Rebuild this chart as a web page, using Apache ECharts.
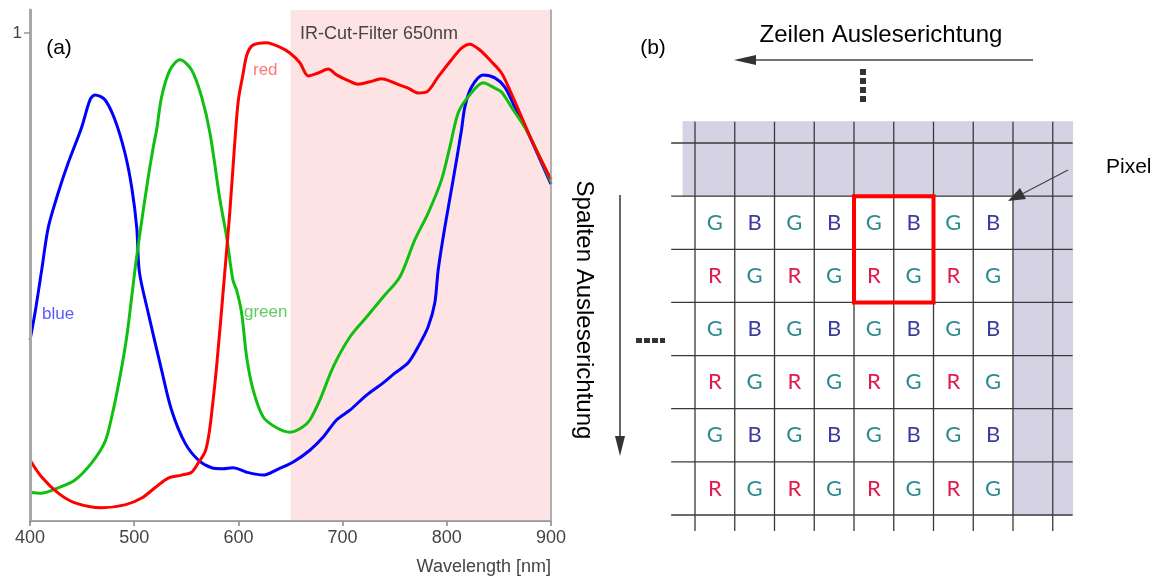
<!DOCTYPE html>
<html><head><meta charset="utf-8">
<script src="https://cdn.jsdelivr.net/npm/echarts@6/dist/echarts.min.js"></script>
<style>html,body{margin:0;padding:0;background:#fff}#c{width:1159px;height:579px}</style>
</head><body><div id="c"></div>
<script>
// ---------- data: (a) spectral sensitivity ----------
const xTicks = [400, 500, 600, 700, 800, 900];
const yTicks = [1];
const irCutRange = [650, 900];
const blueCurve = [[400,0.371],[404.8,0.426],[411.2,0.514],[417.6,0.602],[427,0.672],[436.7,0.734],[449.6,0.807],[457.6,0.863],[462.4,0.873],[471.9,0.863],[481.5,0.822],[491.1,0.754],[497.6,0.684],[502.4,0.602],[505,0.51],[513.5,0.426],[526.3,0.309],[535.9,0.227],[548.7,0.160],[561.5,0.125],[574.3,0.109],[585,0.107],[595,0.109],[607.9,0.100],[623.8,0.094],[636.7,0.105],[652.6,0.121],[668.6,0.145],[681.4,0.172],[694.2,0.207],[707,0.227],[723,0.258],[738.9,0.283],[750.1,0.303],[762.9,0.324],[772.5,0.357],[782.1,0.398],[788.5,0.447],[791.7,0.514],[798.1,0.602],[806.1,0.699],[814.1,0.801],[817.3,0.848],[823.7,0.889],[834.9,0.914],[846.1,0.908],[855.7,0.889],[865.3,0.848],[878,0.795],[900,0.69]];
const greenCurve = [[400,0.059],[411.2,0.057],[427.1,0.068],[443.2,0.084],[459.2,0.119],[471.9,0.162],[478.4,0.213],[486.3,0.295],[492.8,0.377],[497.6,0.459],[500.7,0.514],[505.5,0.590],[513.5,0.705],[518.3,0.766],[521.5,0.801],[526.3,0.869],[534.3,0.924],[543.9,0.945],[555.1,0.924],[564.7,0.869],[572.7,0.795],[582.3,0.658],[588.7,0.582],[594.7,0.494],[598.3,0.473],[603.1,0.426],[607.9,0.336],[614.2,0.268],[623.8,0.213],[636.7,0.191],[649.4,0.182],[660.6,0.191],[668.6,0.207],[678.2,0.248],[691,0.316],[707,0.377],[723,0.418],[738.9,0.459],[754.9,0.5],[769.3,0.576],[782.1,0.631],[794.9,0.699],[802.9,0.766],[810.9,0.836],[820.5,0.869],[834.9,0.898],[846.1,0.887],[852.5,0.879],[862.1,0.848],[878,0.795],[900,0.695]];
const redCurve = [[400,0.125],[411.2,0.090],[427.1,0.057],[443.2,0.037],[468.8,0.027],[491.1,0.033],[507.2,0.047],[519.9,0.068],[532.7,0.088],[545.5,0.094],[555.1,0.100],[561.5,0.119],[567.9,0.141],[570.8,0.166],[573.6,0.207],[579.4,0.324],[587.1,0.514],[591.9,0.637],[596.7,0.781],[600,0.863],[604.3,0.914],[608.1,0.955],[613.9,0.975],[627.1,0.980],[639.8,0.971],[649.4,0.959],[659,0.939],[667,0.912],[676.6,0.918],[686.2,0.926],[694.2,0.914],[703.8,0.904],[715,0.895],[726.2,0.900],[737.4,0.906],[747,0.900],[755,0.893],[762.9,0.887],[772.5,0.877],[780.6,0.879],[791.7,0.910],[804.5,0.945],[814.1,0.969],[822.1,0.977],[831.7,0.965],[842.9,0.941],[852.5,0.918],[860.5,0.883],[871.7,0.828],[884.5,0.766],[900,0.70]];

// ---------- data: (b) Bayer pattern ----------
const bayerRows = ['GBGBGBGB','RGRGRGRG','GBGBGBGB','RGRGRGRG','GBGBGBGB','RGRGRGRG'];
const borderRows = [-1, 0];      // shaded sensor rows above the pattern
const borderCols = [8, 9];       // shaded sensor columns right of the pattern
const highlightCell = [4, 0];    // top-left pattern cell of the marked 2x2 block
const letterColor = {G:'#2a8a90', B:'#3c3c9c', R:'#e3194c'};

// view window of the sensor grid (in cell units)
const viewX = [-0.3, 9.5], viewY = [-0.4, 7.3], hLineX = [-0.6, 9.5];
const SHADE = '#d5d2e4';

const chart = echarts.init(document.getElementById('c'), null, {renderer:'canvas'});
const FONT = '"Liberation Sans", Arial, sans-serif';

function rectFrom(api, c0, r0, c1, r1) {
  const p0 = api.coord([c0, r0]), p1 = api.coord([c1, r1]);
  return {x: Math.min(p0[0], p1[0]), y: Math.min(p0[1], p1[1]),
          width: Math.abs(p1[0]-p0[0]), height: Math.abs(p1[1]-p0[1])};
}

const shadeData = [];
for (let r = -1; r <= 7; r++) for (let c = -1; c <= 9; c++) {
  if (borderRows.includes(r) || (borderCols.includes(c) && r <= bayerRows.length)) shadeData.push([c, r]);
}
const lineData = [];
for (let j = 0; j <= bayerRows.length + 1; j++) lineData.push([0, j]);
for (let k = 0; k <= bayerRows[0].length + 1; k++) lineData.push([1, k]);
const letterData = [];
bayerRows.forEach((row, i) => row.split('').forEach((ch, c) => letterData.push([c, i + 1])));

const option = {
  animation: false,
  grid: [
    {left: 30, top: 10, width: 521, bottom: 58, show: false},
    {left: 695, top: 143, width: 397.5, height: 372, show: false}
  ],
  xAxis: [
    {gridIndex: 0, type: 'value', min: 400, max: 900, interval: 100, z: 10,
     axisLine: {show: true, lineStyle: {color: '#a8a8a8', width: 2}},
     axisTick: {show: true, length: 5, lineStyle: {color: '#888', width: 1.5}},
     axisLabel: {color: '#444', fontSize: 18, fontFamily: FONT, margin: 8},
     splitLine: {show: false}},
    {gridIndex: 0, type: 'value', min: 400, max: 900, position: 'top', z: 10,
     axisLine: {show: true, lineStyle: {color: '#999', width: 1}},
     axisTick: {show: false}, axisLabel: {show: false}, splitLine: {show: false}},
    {gridIndex: 1, type: 'value', min: 0, max: 10, show: false}
  ],
  yAxis: [
    {gridIndex: 0, type: 'value', min: 0, max: 1.047, z: 10,
     axisLine: {show: true, lineStyle: {color: '#a8a8a8', width: 3}},
     axisTick: {show: true, length: 6, customValues: yTicks, lineStyle: {color: '#999', width: 1.5}},
     axisLabel: {customValues: yTicks, color: '#444', fontSize: 17, fontFamily: FONT, margin: 8},
     splitLine: {show: false}},
    {gridIndex: 0, type: 'value', min: 0, max: 1.047, position: 'right', z: 10,
     axisLine: {show: true, lineStyle: {color: '#999', width: 1.5}},
     axisTick: {show: false}, axisLabel: {show: false}, splitLine: {show: false}},
    {gridIndex: 1, type: 'value', min: 0, max: 7, inverse: true, show: false}
  ],
  series: [
    {type: 'line', xAxisIndex: 0, yAxisIndex: 0, data: [], z: 1, silent: true,
     markArea: {silent: true, itemStyle: {color: '#fde3e4'},
       data: [[{xAxis: irCutRange[0]}, {xAxis: irCutRange[1]}]]}},
    {name: 'blue', type: 'line', xAxisIndex: 0, yAxisIndex: 0, data: blueCurve, showSymbol: false,
     smooth: 0.3, lineStyle: {color: '#0000ff', width: 3}, z: 3},
    {name: 'green', type: 'line', xAxisIndex: 0, yAxisIndex: 0, data: greenCurve, showSymbol: false,
     smooth: 0.3, lineStyle: {color: '#10c010', width: 3}, z: 3},
    {name: 'red', type: 'line', xAxisIndex: 0, yAxisIndex: 0, data: redCurve, showSymbol: false,
     smooth: 0.3, lineStyle: {color: '#ff0000', width: 3}, z: 4},
    {type: 'custom', xAxisIndex: 2, yAxisIndex: 2, data: shadeData, clip: false, z: 1, silent: true,
     renderItem: (params, api) => {
       const c = api.value(0), r = api.value(1);
       const c0 = Math.max(c, viewX[0]), c1 = Math.min(c + 1, viewX[1]);
       const r0 = Math.max(r, viewY[0]), r1 = Math.min(r + 1, viewY[1]);
       if (c1 <= c0 || r1 <= r0) return null;
       return {type: 'rect', shape: rectFrom(api, c0, r0, c1, r1),
               style: {fill: SHADE, stroke: SHADE, lineWidth: 1}};
     }},
    {type: 'custom', xAxisIndex: 2, yAxisIndex: 2, data: lineData, clip: false, z: 2, silent: true,
     renderItem: (params, api) => {
       const kind = api.value(0), i = api.value(1);
       let a, b;
       if (kind === 0) { a = api.coord([hLineX[0], i]); b = api.coord([hLineX[1], i]); }
       else { a = api.coord([i, viewY[0]]); b = api.coord([i, viewY[1]]); }
       return {type: 'line', shape: {x1: a[0], y1: a[1], x2: b[0], y2: b[1]},
               style: {stroke: '#3a3a3a', lineWidth: 1.3}};
     }},
    {type: 'custom', xAxisIndex: 2, yAxisIndex: 2, data: letterData, clip: false, z: 3, silent: true,
     renderItem: (params, api) => {
       const c = api.value(0), r = api.value(1);
       const ch = bayerRows[r - 1][c];
       const p = api.coord([c + 0.5, r + 0.5]);
       return {type: 'text', x: p[0], y: p[1],
               style: {text: ch, fill: letterColor[ch], font: '22px Lato, "Noto Sans", sans-serif',
                       textAlign: 'center', textVerticalAlign: 'middle'}};
     }},
    {type: 'custom', xAxisIndex: 2, yAxisIndex: 2, data: [highlightCell], clip: false, z: 4, silent: true,
     renderItem: (params, api) => {
       const c = api.value(0), r = api.value(1) + 1;
       return {type: 'rect', shape: rectFrom(api, c, r, c + 2, r + 2),
               style: {fill: 'none', stroke: '#ff0000', lineWidth: 4}};
     }}
  ],
  graphic: [
    {type: 'text', x: 59, y: 48, style: {text: '(a)', font: '21px ' + FONT, fill: '#000', textAlign: 'center', textVerticalAlign: 'middle'}},
    {type: 'text', x: 300, y: 34, z: 20, style: {text: 'IR-Cut-Filter 650nm', font: '18px ' + FONT, fill: '#444', textAlign: 'left', textVerticalAlign: 'middle'}},
    {type: 'text', x: 253, y: 70, z: 20, style: {text: 'red', font: '17px ' + FONT, fill: '#ff7474', textAlign: 'left', textVerticalAlign: 'middle'}},
    {type: 'text', x: 42, y: 314, z: 20, style: {text: 'blue', font: '17px ' + FONT, fill: '#5a5aff', textAlign: 'left', textVerticalAlign: 'middle'}},
    {type: 'text', x: 244, y: 312, z: 20, style: {text: 'green', font: '17px ' + FONT, fill: '#5fcc5f', textAlign: 'left', textVerticalAlign: 'middle'}},
    {type: 'text', x: 551, y: 567, style: {text: 'Wavelength [nm]', font: '18px ' + FONT, fill: '#444', textAlign: 'right', textVerticalAlign: 'middle'}},
    {type: 'text', x: 653, y: 48, style: {text: '(b)', font: '21px ' + FONT, fill: '#000', textAlign: 'center', textVerticalAlign: 'middle'}},
    {type: 'text', x: 881, y: 35, style: {text: 'Zeilen Ausleserichtung', font: '24px ' + FONT, fill: '#000', textAlign: 'center', textVerticalAlign: 'middle'}},
    {type: 'line', shape: {x1: 1033, y1: 60, x2: 752, y2: 60}, style: {stroke: '#444', lineWidth: 1.5}},
    {type: 'polygon', shape: {points: [[734, 60], [756, 55], [756, 65]]}, style: {fill: '#333'}},
    {type: 'rect', shape: {x: 860, y: 69, width: 6, height: 6}, style: {fill: '#333'}},
    {type: 'rect', shape: {x: 860, y: 78, width: 6, height: 6}, style: {fill: '#333'}},
    {type: 'rect', shape: {x: 860, y: 87, width: 6, height: 6}, style: {fill: '#333'}},
    {type: 'rect', shape: {x: 860, y: 96, width: 6, height: 6}, style: {fill: '#333'}},
    {type: 'text', x: 584, y: 310, rotation: -Math.PI / 2, style: {text: 'Spalten Ausleserichtung', font: '24px ' + FONT, fill: '#000', textAlign: 'center', textVerticalAlign: 'middle'}},
    {type: 'line', shape: {x1: 620, y1: 195, x2: 620, y2: 440}, style: {stroke: '#333', lineWidth: 1.5}},
    {type: 'polygon', shape: {points: [[620, 456], [615, 436], [625, 436]]}, style: {fill: '#333'}},
    {type: 'rect', shape: {x: 636, y: 338, width: 6, height: 5}, style: {fill: '#333'}},
    {type: 'rect', shape: {x: 644, y: 338, width: 6, height: 5}, style: {fill: '#333'}},
    {type: 'rect', shape: {x: 652, y: 338, width: 6, height: 5}, style: {fill: '#333'}},
    {type: 'rect', shape: {x: 660, y: 338, width: 5, height: 5}, style: {fill: '#333'}},
    {type: 'text', x: 1106, y: 167, style: {text: 'Pixel', font: '21px ' + FONT, fill: '#000', textAlign: 'left', textVerticalAlign: 'middle'}},
    {type: 'line', shape: {x1: 1068, y1: 170, x2: 1022, y2: 194}, style: {stroke: '#444', lineWidth: 1.3}, z: 50},
    {type: 'polygon', shape: {points: [[1008, 201], [1020, 188], [1026, 199]]}, style: {fill: '#333'}, z: 50}
  ]
};
chart.setOption(option);
</script>
</body></html>
